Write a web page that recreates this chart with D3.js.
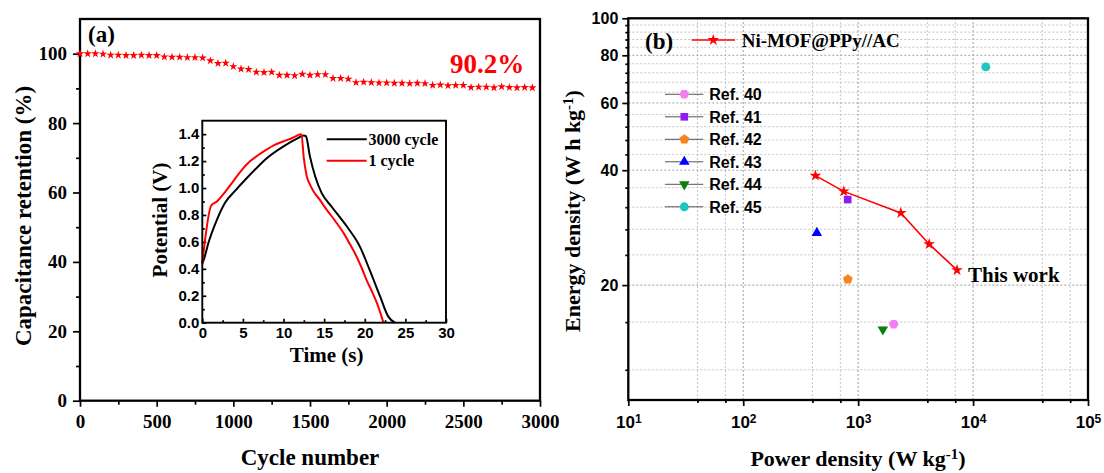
<!DOCTYPE html>
<html><head><meta charset="utf-8">
<script src="https://cdn.jsdelivr.net/npm/d3@7"></script>
<style>body{margin:0;background:#fff} svg{display:block}</style>
</head><body>
<svg id="c" width="1104" height="473"></svg>
<script>
// ---------- data: panel (a) cycling ----------
const cycles = [0,50,100,150,200,250,300,350,400,450,500,550,600,650,700,750,800,850,900,950,
  1000,1050,1100,1150,1200,1250,1300,1350,1400,1450,1500,1550,1600,1650,1700,1750,1800,1850,1900,1950,
  2000,2050,2100,2150,2200,2250,2300,2350,2400,2450,2500,2550,2600,2650,2700,2750,2800,2850,2900,2950];
const retention = [100.0,100.0,100.0,99.9,99.6,99.6,99.5,99.5,99.6,99.5,99.5,99.1,99.0,99.0,98.9,98.9,98.8,98.0,97.2,97.3,
  96.3,95.6,95.5,94.7,94.6,94.7,93.8,93.8,93.7,94.1,93.8,94.0,94.0,92.9,92.9,92.7,91.7,91.8,91.7,91.6,
  91.6,91.5,91.5,91.4,91.5,91.4,90.9,91.0,90.8,90.9,90.9,90.3,90.4,90.4,90.2,90.5,90.3,90.2,90.3,90.2];
const retTicks = [0,20,40,60,80,100];
const retMinor = [10,30,50,70,90];
const cycleTicks = [0,500,1000,1500,2000,2500,3000];
const cycleMinor = [250,750,1250,1750,2250,2750];

// ---------- data: inset GCD ----------
const time1 = [0,1.1,1.8,2.8,3.8,4.8,5.9,6.9,7.9,8.9,10.0,11.0,12.2,12.5,12.85,13.3,13.7,14.5,15.3,16.3,17.4,18.2,19.0,19.6,20.2,20.9,21.5,22.3];
const pot1  = [0.44,0.87,0.90,0.97,1.05,1.13,1.20,1.245,1.285,1.32,1.347,1.37,1.40,1.22,1.09,1.02,0.975,0.91,0.84,0.76,0.665,0.58,0.49,0.41,0.32,0.23,0.145,0.0];
const time3000 = [0,0.2,0.74,1.77,2.8,4.2,5.9,7.9,10.0,11.6,12.5,12.75,13.25,13.9,14.7,15.9,17.8,19.4,20.6,21.9,22.9,23.7];
const pot3000  = [0.44,0.47,0.59,0.76,0.89,0.99,1.10,1.22,1.31,1.365,1.39,1.385,1.235,1.086,0.962,0.863,0.714,0.565,0.392,0.193,0.045,0.0];
const insetTimeTicks = [0,5,10,15,20,25,30];
const insetTimeMinor = [2.5,7.5,12.5,17.5,22.5,27.5];
const insetPotTicks = [0,0.2,0.4,0.6,0.8,1.0,1.2,1.4];
const insetPotMinor = [0.1,0.3,0.5,0.7,0.9,1.1,1.3];
const insetSeries = ["3000 cycle","1 cycle"];

// ---------- data: panel (b) Ragone ----------
const workPower  = [425,750,2350,4150,7250];
const workEnergy = [38.7,35.2,30.9,25.6,21.9];
const refNames  = ["Ref. 40","Ref. 41","Ref. 42","Ref. 43","Ref. 44","Ref. 45"];
const refPower  = [2040,811,813,437,1640,12900];
const refEnergy = [15.8,33.5,20.7,27.4,15.3,74.6];
const powerTicks = [10,100,1000,10000,100000];
const powerMinor = [40,70,400,700,4000,7000,40000,70000];
const energyTicks = [20,40,60,80,100];
const energyMinor = [12,16,24,28,32,36,44,48,52,56,64,68,72,76,84,88,92,96];

// ---------- styles ----------
const SERIF = "'Liberation Serif','Times New Roman',serif";
const SANS = "'Liberation Sans',Arial,sans-serif";
const refColors = ["#f47ef4","#8f1cf5","#f7841c","#0000ff","#0b7d0b","#1ec3c3"];

const svg = d3.select("#c");

// polygon symbol helper
function polySymbol(n, startDeg){
  return {draw(ctx, size){
    const r = Math.sqrt(size / (n/2*Math.sin(2*Math.PI/n)));
    for(let i=0;i<n;i++){
      const a = (startDeg + i*360/n)*Math.PI/180;
      const x = r*Math.cos(a), y = r*Math.sin(a);
      if(i===0) ctx.moveTo(x,y); else ctx.lineTo(x,y);
    }
    ctx.closePath();
  }};
}
const downTri = {draw(ctx,size){
  const s = Math.sqrt(size*4/Math.sqrt(3)); const h = s*Math.sqrt(3)/2;
  ctx.moveTo(-s/2,-h/3); ctx.lineTo(s/2,-h/3); ctx.lineTo(0,2*h/3); ctx.closePath();
}};
const upTri = {draw(ctx,size){
  const s = Math.sqrt(size*4/Math.sqrt(3)); const h = s*Math.sqrt(3)/2;
  ctx.moveTo(-s/2,h/3); ctx.lineTo(s/2,h/3); ctx.lineTo(0,-2*h/3); ctx.closePath();
}};
const refSymbols = [
  d3.symbol(polySymbol(6,0),62), d3.symbol(d3.symbolSquare,58), d3.symbol(polySymbol(5,-90),62),
  d3.symbol(upTri,48), d3.symbol(downTri,48), d3.symbol(d3.symbolCircle,62)
];

function styleAxis(g, font, size){
  g.select(".domain").remove();
  g.selectAll("text").attr("font-family",font).attr("font-weight","bold")
    .attr("font-size",size).attr("fill","#000");
  g.selectAll("line").attr("stroke","#000").attr("stroke-width",1.7);
}

// =============== PANEL (a) ===============
const xA = d3.scaleLinear([0,3000],[80,540]);
const yA = d3.scaleLinear([0,110],[400.7,19]);

svg.append("g").attr("transform","translate(80,0)")
  .call(d3.axisLeft(yA).tickValues(retTicks).tickSize(7).tickPadding(6).tickFormat(d3.format("d")))
  .call(g=>styleAxis(g,SERIF,"19px"));
svg.append("g").attr("transform","translate(80,0)")
  .call(d3.axisLeft(yA).tickValues(retMinor).tickSize(4).tickFormat(""))
  .call(g=>styleAxis(g,SERIF,"19px"));
svg.append("g").attr("transform","translate(0,400.7)")
  .call(d3.axisBottom(xA).tickValues(cycleTicks).tickSize(6).tickPadding(8).tickFormat(d3.format("d")))
  .call(g=>styleAxis(g,SERIF,"19px"));
svg.append("g").attr("transform","translate(0,400.7)")
  .call(d3.axisBottom(xA).tickValues(cycleMinor).tickSize(4).tickFormat(""))
  .call(g=>styleAxis(g,SERIF,"19px"));

svg.append("rect").attr("x",xA(0)).attr("y",yA(110)).attr("width",xA(3000)-xA(0)).attr("height",yA(0)-yA(110))
  .attr("fill","none").attr("stroke","#000").attr("stroke-width",2.3);

svg.append("g").selectAll("path").data(cycles).join("path")
  .attr("transform",(d,i)=>`translate(${xA(d)},${yA(retention[i])})`)
  .attr("d",d3.symbol(d3.symbolStar,22)).attr("fill","#ff0000");

svg.append("text").attr("x",88).attr("y",42).attr("font-family",SERIF).attr("font-weight","bold")
  .attr("font-size","23px").text("(a)");
svg.append("text").attr("x",450).attr("y",73).attr("font-family",SERIF).attr("font-weight","bold")
  .attr("font-size","27px").attr("fill","#ff0000").text("90.2%");

svg.append("text").attr("transform","translate(31,216) rotate(-90)").attr("text-anchor","middle")
  .attr("font-family",SERIF).attr("font-weight","bold").attr("font-size","23px")
  .text("Capacitance retention (%)");
svg.append("text").attr("x",310).attr("y",465).attr("text-anchor","middle")
  .attr("font-family",SERIF).attr("font-weight","bold").attr("font-size","23px").text("Cycle number");

// ---------- inset ----------
const xI = d3.scaleLinear([0,30],[202.3,446]);
const yI = d3.scaleLinear([0,1.5],[322.7,120.7]);
svg.append("rect").attr("x",xI(0)).attr("y",yI(1.5)).attr("width",xI(30)-xI(0)).attr("height",yI(0)-yI(1.5))
  .attr("fill","#fff");
svg.append("g").attr("transform",`translate(${xI(0)},0)`)
  .call(d3.axisLeft(yI).tickValues(insetPotTicks).tickSize(-4).tickPadding(3).tickFormat(d3.format(".1f")))
  .call(g=>styleAxis(g,SANS,"15px"));
svg.append("g").attr("transform",`translate(${xI(0)},0)`)
  .call(d3.axisLeft(yI).tickValues(insetPotMinor).tickSize(-2.5).tickFormat(""))
  .call(g=>styleAxis(g,SANS,"15px"));
svg.append("g").attr("transform",`translate(0,${yI(0)})`)
  .call(d3.axisBottom(xI).tickValues(insetTimeTicks).tickSize(-4).tickPadding(5).tickFormat(d3.format("d")))
  .call(g=>styleAxis(g,SANS,"15px"));
svg.append("g").attr("transform",`translate(0,${yI(0)})`)
  .call(d3.axisBottom(xI).tickValues(insetTimeMinor).tickSize(-2.5).tickFormat(""))
  .call(g=>styleAxis(g,SANS,"15px"));

const lineI = d3.line().x(d=>xI(d[0])).y(d=>yI(d[1])).curve(d3.curveMonotoneX);
svg.append("path").datum(time3000.map((t,i)=>[t,pot3000[i]])).attr("d",lineI)
  .attr("fill","none").attr("stroke","#000").attr("stroke-width",2);
svg.append("path").datum(time1.map((t,i)=>[t,pot1[i]])).attr("d",lineI)
  .attr("fill","none").attr("stroke","#ff0000").attr("stroke-width",2);
svg.append("rect").attr("x",xI(0)).attr("y",yI(1.5)).attr("width",xI(30)-xI(0)).attr("height",yI(0)-yI(1.5))
  .attr("fill","none").attr("stroke","#000").attr("stroke-width",1.9);

const insetColors = ["#000","#ff0000"];
insetSeries.forEach((name,i)=>{
  const y = 139.3 + i*21.4;
  svg.append("line").attr("x1",326.7).attr("x2",366.7).attr("y1",y).attr("y2",y)
    .attr("stroke",insetColors[i]).attr("stroke-width",2);
  svg.append("text").attr("x",368.5).attr("y",y+5.5).attr("font-family",SERIF).attr("font-weight","bold")
    .attr("font-size","16px").text(name);
});
svg.append("text").attr("transform","translate(167,220) rotate(-90)").attr("text-anchor","middle")
  .attr("font-family",SERIF).attr("font-weight","bold").attr("font-size","21px").text("Potential (V)");
svg.append("text").attr("x",326.7).attr("y",362).attr("text-anchor","middle")
  .attr("font-family",SERIF).attr("font-weight","bold").attr("font-size","21px").text("Time (s)");

// =============== PANEL (b) ===============
const xB = d3.scaleLog([10,1e5],[628.3,1088]);
const yB = d3.scaleLog([10,100],[400,18.3]);
const gridG = svg.append("g");
gridG.selectAll("line.hm").data(energyMinor).join("line")
  .attr("x1",xB(10)).attr("x2",xB(1e5)).attr("y1",d=>yB(d)).attr("y2",d=>yB(d))
  .attr("stroke","#c4c4c4").attr("stroke-width",1).attr("stroke-dasharray","2,2");
gridG.selectAll("line.vm").data(powerMinor).join("line")
  .attr("y1",yB(10)).attr("y2",yB(100)).attr("x1",d=>xB(d)).attr("x2",d=>xB(d))
  .attr("stroke","#c4c4c4").attr("stroke-width",1).attr("stroke-dasharray","2,2");
gridG.selectAll("line.hM").data(energyTicks.slice(0,4)).join("line")
  .attr("x1",xB(10)).attr("x2",xB(1e5)).attr("y1",d=>yB(d)).attr("y2",d=>yB(d))
  .attr("stroke","#a0a0a0").attr("stroke-width",1).attr("stroke-dasharray","2,2");
gridG.selectAll("line.vM").data(powerTicks.slice(1,4)).join("line")
  .attr("y1",yB(10)).attr("y2",yB(100)).attr("x1",d=>xB(d)).attr("x2",d=>xB(d))
  .attr("stroke","#a0a0a0").attr("stroke-width",1).attr("stroke-dasharray","2,2");

svg.append("g").attr("transform",`translate(${xB(10)},0)`)
  .call(d3.axisLeft(yB).tickValues(energyTicks).tickSize(6).tickPadding(4).tickFormat(d3.format("d")))
  .call(g=>styleAxis(g,SANS,"16px"));
svg.append("g").attr("transform",`translate(${xB(10)},0)`)
  .call(d3.axisLeft(yB).tickValues(energyMinor).tickSize(3).tickFormat(""))
  .call(g=>styleAxis(g,SANS,"16px"));
svg.append("g").attr("transform",`translate(0,${yB(10)})`)
  .call(d3.axisBottom(xB).tickValues(powerTicks).tickSize(6).tickPadding(10).tickFormat(""))
  .call(g=>styleAxis(g,SANS,"17px"))
  .call(g=>g.selectAll(".tick text").each(function(d){
     const t = d3.select(this);
     t.text("10");
     t.append("tspan").attr("dy","-0.45em").attr("font-size","12px").text(Math.round(Math.log10(d)));
  }));
svg.append("g").attr("transform",`translate(0,${yB(10)})`)
  .call(d3.axisBottom(xB).tickValues(powerMinor).tickSize(3).tickFormat(""))
  .call(g=>styleAxis(g,SANS,"17px"));

svg.append("rect").attr("x",xB(10)).attr("y",yB(100)).attr("width",xB(1e5)-xB(10)).attr("height",yB(10)-yB(100))
  .attr("fill","none").attr("stroke","#000").attr("stroke-width",2.3);

// refs
svg.append("g").selectAll("path").data(refNames).join("path")
  .attr("transform",(d,i)=>`translate(${xB(refPower[i])},${yB(refEnergy[i])})`)
  .attr("d",(d,i)=>refSymbols[i]()).attr("fill",(d,i)=>refColors[i]);

// this work
svg.append("path").datum(workPower.map((p,i)=>[p,workEnergy[i]]))
  .attr("d",d3.line().x(d=>xB(d[0])).y(d=>yB(d[1])))
  .attr("fill","none").attr("stroke","#ff0000").attr("stroke-width",1.6);
svg.append("g").selectAll("path").data(workPower).join("path")
  .attr("transform",(d,i)=>`translate(${xB(d)},${yB(workEnergy[i])})`)
  .attr("d",d3.symbol(d3.symbolStar,42)).attr("fill","#ff0000");
svg.append("text").attr("x",968).attr("y",281.7).attr("font-family",SERIF).attr("font-weight","bold")
  .attr("font-size","21px").text("This work");

// legend
svg.append("text").attr("x",645).attr("y",49).attr("font-family",SERIF).attr("font-weight","bold")
  .attr("font-size","23px").text("(b)");
svg.append("line").attr("x1",691.7).attr("x2",735).attr("y1",40).attr("y2",40)
  .attr("stroke","#ff0000").attr("stroke-width",1.6);
svg.append("path").attr("transform","translate(713.3,40)").attr("d",d3.symbol(d3.symbolStar,42)).attr("fill","#ff0000");
svg.append("text").attr("x",741.7).attr("y",46.7).attr("font-family",SERIF).attr("font-weight","bold")
  .attr("font-size","19px").text("Ni-MOF@PPy//AC");

refNames.forEach((name,i)=>{
  const y = 94.3 + i*22.5;
  svg.append("line").attr("x1",665).attr("x2",703.3).attr("y1",y).attr("y2",y)
    .attr("stroke","#555").attr("stroke-width",1);
  svg.append("path").attr("transform",`translate(684.3,${y})`).attr("d",refSymbols[i]()).attr("fill",refColors[i]);
  svg.append("text").attr("x",709.3).attr("y",y+6).attr("font-family",SANS).attr("font-weight","bold")
    .attr("font-size","16px").text(name);
});

// axis titles
const yt = svg.append("text").attr("transform","translate(580,211) rotate(-90)").attr("text-anchor","middle")
  .attr("font-family",SERIF).attr("font-weight","bold").attr("font-size","22px");
yt.append("tspan").text("Energy density (W h kg");
yt.append("tspan").attr("dy","-0.5em").attr("font-size","15px").text("-1");
yt.append("tspan").attr("dy","0.33em").text(")");
const xt = svg.append("text").attr("x",858).attr("y",466).attr("text-anchor","middle")
  .attr("font-family",SERIF).attr("font-weight","bold").attr("font-size","22px");
xt.append("tspan").text("Power density (W kg");
xt.append("tspan").attr("dy","-0.5em").attr("font-size","15px").text("-1");
xt.append("tspan").attr("dy","0.33em").text(")");
</script>
</body></html>
